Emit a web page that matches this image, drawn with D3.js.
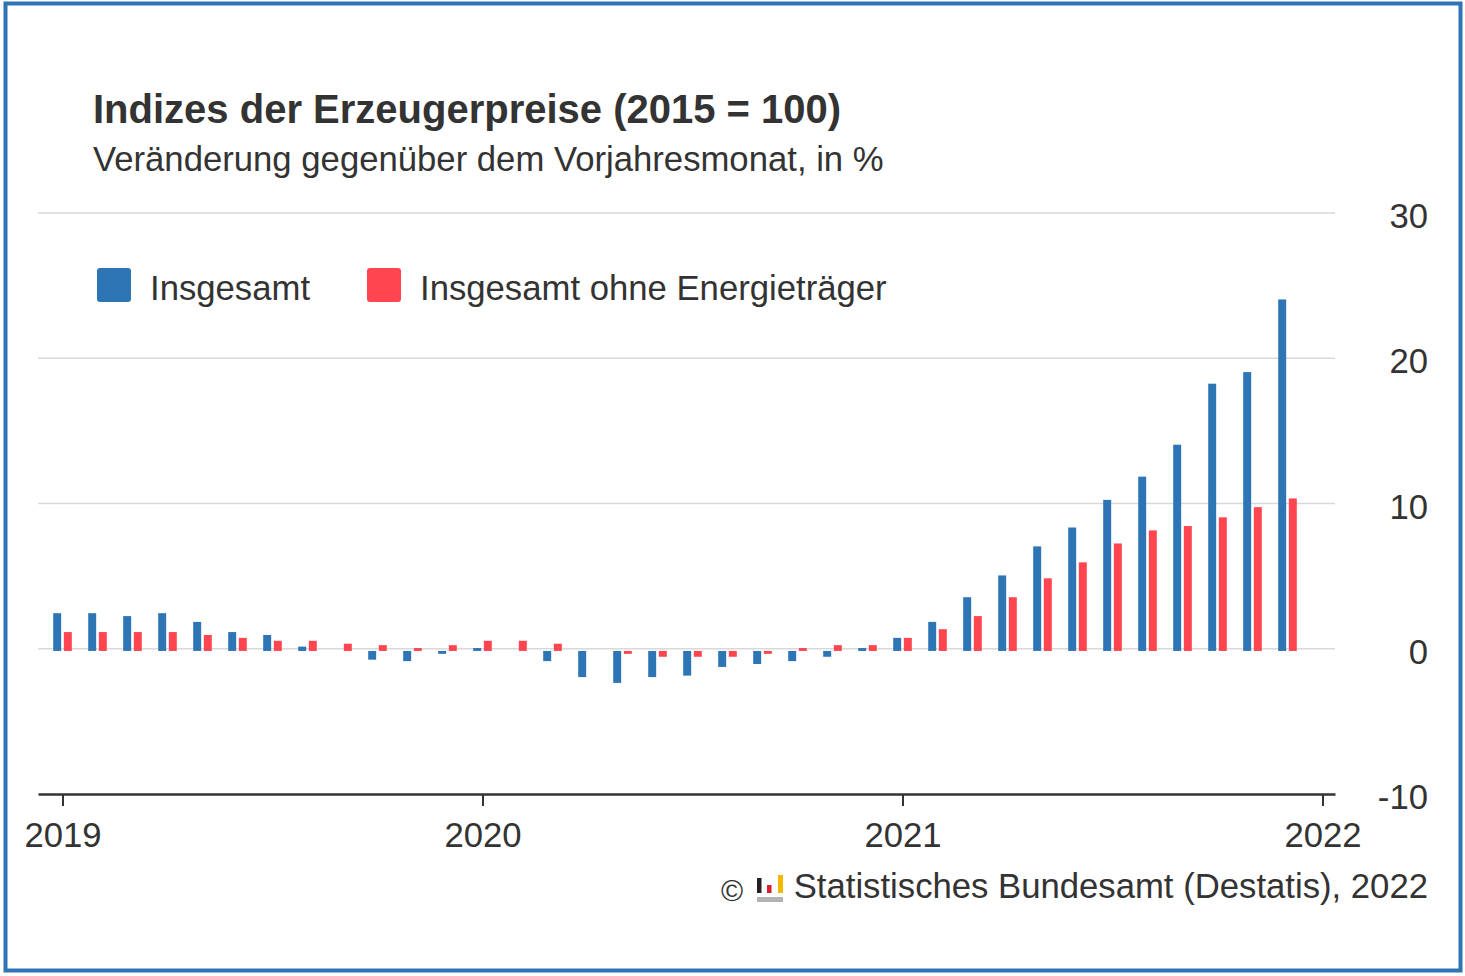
<!DOCTYPE html>
<html>
<head>
<meta charset="utf-8">
<script src="https://cdn.jsdelivr.net/npm/d3@7"></script>
<style>
  html, body { margin: 0; padding: 0; background: #fff; }
  svg { display: block; }
  text { font-family: "Liberation Sans", Arial, Helvetica, sans-serif; fill: #333; }
</style>
</head>
<body>
<svg id="chart" width="1465" height="976"></svg>
<script>
const months = [
  "2019-01","2019-02","2019-03","2019-04","2019-05","2019-06","2019-07","2019-08","2019-09","2019-10","2019-11","2019-12",
  "2020-01","2020-02","2020-03","2020-04","2020-05","2020-06","2020-07","2020-08","2020-09","2020-10","2020-11","2020-12",
  "2021-01","2021-02","2021-03","2021-04","2021-05","2021-06","2021-07","2021-08","2021-09","2021-10","2021-11","2021-12"
];
const insgesamt = [
  2.6, 2.6, 2.4, 2.6, 2.0, 1.3, 1.1, 0.3, 0.0, -0.6, -0.7, -0.2,
  0.2, 0.0, -0.7, -1.8, -2.2, -1.8, -1.7, -1.1, -0.9, -0.7, -0.4, 0.2,
  0.9, 2.0, 3.7, 5.2, 7.2, 8.5, 10.4, 12.0, 14.2, 18.4, 19.2, 24.2
];
const ohneEnergie = [
  1.3, 1.3, 1.3, 1.3, 1.1, 0.9, 0.7, 0.7, 0.5, 0.4, 0.2, 0.4,
  0.7, 0.7, 0.5, 0.0, -0.2, -0.4, -0.4, -0.4, -0.2, 0.2, 0.4, 0.4,
  0.9, 1.5, 2.4, 3.7, 5.0, 6.1, 7.4, 8.3, 8.6, 9.2, 9.9, 10.5
];
const seriesNames = ["Insgesamt", "Insgesamt ohne Energieträger"];
const seriesColors = ["#2e75b6", "#ff4650"];
const yTicks = [-10, 0, 10, 20, 30];
const xTickIndex = [0, 12, 24, 36];
const xTickLabels = ["2019", "2020", "2021", "2022"];

const svg = d3.select("#chart");
const FS = 34.7;

// frame
svg.append("rect").attr("x", 5.5).attr("y", 3.5).attr("width", 1455).attr("height", 967)
  .attr("fill", "none").attr("stroke", "#2e75b6").attr("stroke-width", 4);

// titles
svg.append("text").attr("x", 93).attr("y", 123).attr("font-size", 40).attr("font-weight", "bold")
  .text("Indizes der Erzeugerpreise (2015 = 100)");
svg.append("text").attr("x", 93).attr("y", 171).attr("font-size", FS)
  .text("Veränderung gegenüber dem Vorjahresmonat, in %");

// scales
const x = d3.scaleLinear().domain([-0.7, 36.357]).range([38, 1335]);
const y = d3.scaleLinear().domain([-10, 30]).range([794, 213]);
const inner = d3.scaleBand().domain([0, 1]).range([-9.3, 9.3]).paddingInner(0.25);

// gridlines
svg.append("g").selectAll("line").data(yTicks.filter(d => d !== -10)).join("line")
  .attr("x1", 38).attr("x2", 1335)
  .attr("y1", d => y(d)).attr("y2", d => y(d))
  .attr("stroke", "#d9d9d9").attr("stroke-width", 1.5);

// y labels
svg.append("g").selectAll("text").data(yTicks).join("text")
  .attr("x", 1428).attr("y", d => y(d) + 15)
  .attr("text-anchor", "end").attr("font-size", FS)
  .text(d => d);

// bars
const data = months.map((m, i) => ({ i, vals: [insgesamt[i], ohneEnergie[i]] }));
const barsG = svg.append("g").attr("transform", "translate(0,2.2)");
const groups = barsG.selectAll("g").data(data).join("g")
  .attr("transform", d => `translate(${x(d.i)},0)`);
groups.selectAll("rect").data(d => d.vals.map((v, s) => ({ v, s }))).join("rect")
  .attr("x", d => inner(d.s))
  .attr("width", inner.bandwidth())
  .attr("y", d => Math.min(y(d.v), y(0)))
  .attr("height", d => Math.abs(y(d.v) - y(0)))
  .attr("fill", d => seriesColors[d.s]);

// x axis
const xAxis = d3.axisBottom(x).tickValues(xTickIndex)
  .tickFormat((d, k) => xTickLabels[k]).tickSizeOuter(0).tickSizeInner(12).tickPadding(16);
const ax = svg.append("g").attr("transform", `translate(0,${y(-10)})`).call(xAxis);
ax.select(".domain").attr("stroke", "#333").attr("stroke-width", 2.5);
ax.selectAll(".tick line").attr("stroke", "#333").attr("stroke-width", 2);
ax.selectAll(".tick text").attr("font-size", FS).attr("fill", "#333")
  .attr("font-family", "Liberation Sans, Arial, sans-serif").attr("dy", "0.71em");

// legend
const legendX = [97, 367];
const legendTextX = [150, 420];
seriesNames.forEach((name, s) => {
  svg.append("rect").attr("x", legendX[s]).attr("y", 268).attr("width", 34).attr("height", 34)
    .attr("rx", 3).attr("fill", seriesColors[s]);
  svg.append("text").attr("x", legendTextX[s]).attr("y", 300).attr("font-size", FS).text(name);
});

// source
svg.append("text").attr("x", 1428).attr("y", 898).attr("text-anchor", "end").attr("font-size", FS)
  .text("Statistisches Bundesamt (Destatis), 2022");
svg.append("text").attr("x", 721).attr("y", 901).attr("font-size", 30).text("©");
const logo = svg.append("g");
logo.append("rect").attr("x", 757).attr("y", 878).attr("width", 4.5).attr("height", 15).attr("fill", "#222");
logo.append("rect").attr("x", 767).attr("y", 885).attr("width", 4.5).attr("height", 8).attr("fill", "#d9202c");
logo.append("rect").attr("x", 778).attr("y", 875).attr("width", 5).attr("height", 18).attr("fill", "#f5b800");
logo.append("rect").attr("x", 757).attr("y", 897).attr("width", 26).attr("height", 5).attr("fill", "#b3b3b3");
</script>
</body>
</html>
